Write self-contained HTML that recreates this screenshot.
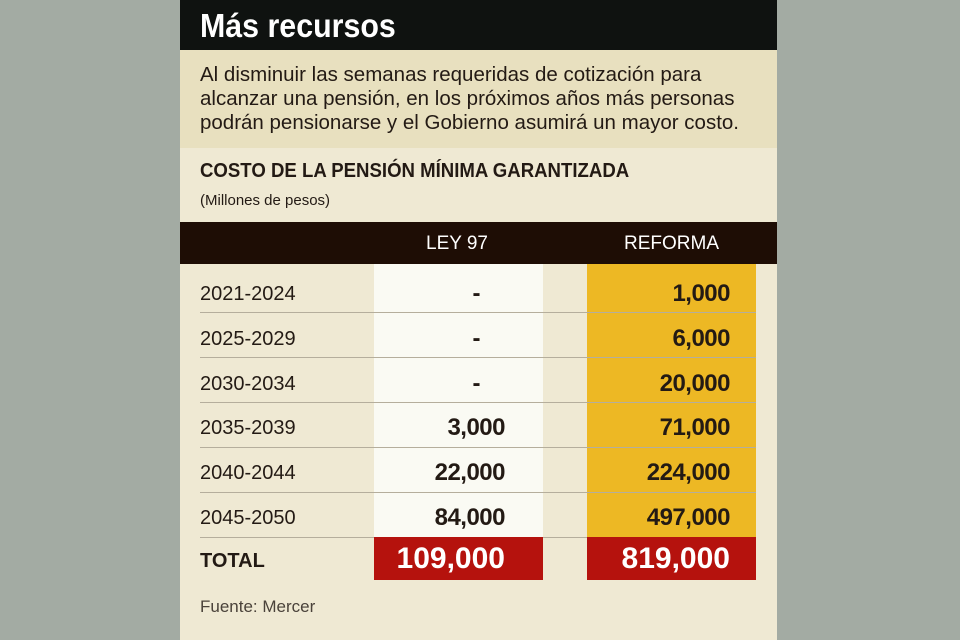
<!DOCTYPE html>
<html><head><meta charset="utf-8"><style>
body{margin:0;width:960px;height:640px;background:#a3aba3;position:relative;overflow:hidden;font-family:"Liberation Sans",sans-serif;color:#231a14}
.p{position:absolute;left:180px;top:0;width:597px;height:640px;background:#efe9d3}
.a{position:absolute}
.hd{left:0;top:0;width:597px;height:50px;background:#0f1210;color:#fff;font-weight:bold;font-size:33px;line-height:52px;padding-left:20px;box-sizing:border-box}
.hd span{display:inline-block;transform:scaleX(0.92);transform-origin:left}
.ds{left:0;top:50px;width:597px;height:98px;background:#e8e0bf;font-size:20.5px;line-height:24px;padding:13px 0 0 20px;box-sizing:border-box}
.th{left:0;top:222px;width:597px;height:42px;background:#1e0d05;color:#fff;font-size:19px;line-height:44px}
.w{left:194px;top:264px;width:169px;height:273px;background:#fafaf3}
.y{left:407px;top:264px;width:169px;height:273px;background:#edb824}
.ln{left:20px;width:556px;height:1px;background:#b5ae9c}
.r{left:20px;width:556px;height:45px;font-size:20px;line-height:48px}
.r span{position:absolute}
.l{left:0}
.v1{right:251px;font-weight:bold;font-size:24px;letter-spacing:-0.5px}
.v2{right:26px;font-weight:bold;font-size:24px;letter-spacing:-0.5px}
.red{top:537px;width:169px;height:43px;background:#b5120d;color:#fff;font-weight:bold;font-size:30px;line-height:44px;text-align:right;box-sizing:border-box;padding-right:38px}
</style></head><body><div class="p">
<div class="a hd"><span>Más recursos</span></div>
<div class="a ds">Al disminuir las semanas requeridas de cotización para<br>alcanzar una pensión, en los próximos años más personas<br>podrán pensionarse y el Gobierno asumirá un mayor costo.</div>
<div class="a" style="left:20px;top:160px;font-size:20px;font-weight:bold;transform:scaleX(0.93);transform-origin:left">COSTO DE LA PENSIÓN MÍNIMA GARANTIZADA</div>
<div class="a" style="left:20px;top:192px;font-size:15px">(Millones de pesos)</div>
<div class="a th"><span class="a" style="left:246px">LEY 97</span><span class="a" style="left:444px">REFORMA</span></div>
<div class="a w"></div><div class="a y"></div>
<div class="a ln" style="top:312px"></div><div class="a ln" style="top:357px"></div><div class="a ln" style="top:402px"></div><div class="a ln" style="top:447px"></div><div class="a ln" style="top:492px"></div><div class="a ln" style="top:537px"></div>
<div class="a r" style="top:270px"><span class="l">2021-2024</span><span class="v1" style="right:276px">-</span><span class="v2">1,000</span></div>
<div class="a r" style="top:315px"><span class="l">2025-2029</span><span class="v1" style="right:276px">-</span><span class="v2">6,000</span></div>
<div class="a r" style="top:360px"><span class="l">2030-2034</span><span class="v1" style="right:276px">-</span><span class="v2">20,000</span></div>
<div class="a r" style="top:404px"><span class="l">2035-2039</span><span class="v1">3,000</span><span class="v2">71,000</span></div>
<div class="a r" style="top:449px"><span class="l">2040-2044</span><span class="v1">22,000</span><span class="v2">224,000</span></div>
<div class="a r" style="top:494px"><span class="l">2045-2050</span><span class="v1">84,000</span><span class="v2">497,000</span></div>
<div class="a" style="left:20px;top:550px;font-size:20px;font-weight:bold">TOTAL</div>
<div class="a red" style="left:194px">109,000</div>
<div class="a red" style="left:407px;padding-right:26px">819,000</div>
<div class="a" style="left:20px;top:597px;font-size:17px;color:#4a423a">Fuente: Mercer</div>
</div></body></html>
